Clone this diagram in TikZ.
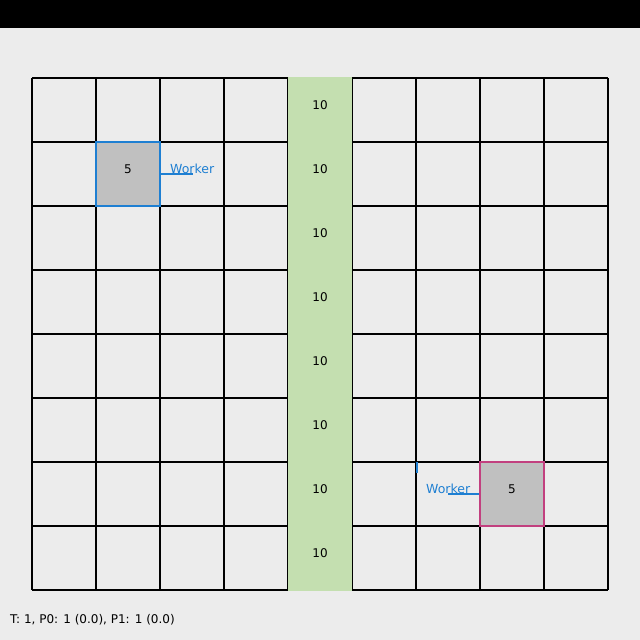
\documentclass[tikz,border=0pt]{standalone}
\usepackage{fontspec}
\setmainfont{DejaVu Sans}
\definecolor{bg}{HTML}{ECECEC}
\definecolor{lane}{HTML}{C4DFB0}
\definecolor{box}{HTML}{C0C0C0}
\definecolor{wblue}{HTML}{1E7FD2}
\definecolor{wpink}{HTML}{C2407F}
\begin{document}
\begin{tikzpicture}[x=1pt,y=-1pt,
  gridline/.style={black,line width=1.1pt},
  lanecell/.style={draw=none,inner sep=0pt,font=\fontsize{12}{14}\selectfont},
  worker/.style={fill=box,line width=1.6pt,minimum width=64pt,minimum height=64pt,inner sep=0pt,font=\fontsize{12}{14}\selectfont},
  wlabel/.style={text=wblue,font=\fontsize{12.5}{14}\selectfont,inner sep=0pt},
  wlink/.style={wblue,line width=1.2pt}]
\fill[bg] (0,0) rectangle (640,640);
\useasboundingbox (0,0) rectangle (640,640);
\fill[black] (0,0) rectangle (640,28);
% grid
\foreach \i in {0,...,9} \draw[gridline] (32+64*\i,78) -- (32+64*\i,590);
\foreach \j in {0,...,8} \draw[gridline] (32,78+64*\j) -- (608,78+64*\j);
% lane
\fill[lane] (288,77) rectangle (352,591);
\foreach \j in {0,...,7} \node[lanecell] (lane\j) at (320,105+64*\j) {10};
% workers
\node[worker,draw=wblue] (w1) at (128,174) {\raisebox{10pt}{5}};
\node[worker,draw=wpink] (w2) at (512,494) {\raisebox{10pt}{5}};
\node[wlabel,anchor=west] (l1) at (170,169) {Worker};
\node[wlabel,anchor=west] (l2) at (426,489) {Worker};
\coordinate (t1a) at (160.5,142);
\coordinate (t1b) at (160.5,152);
\coordinate (t2a) at (417,462);
\coordinate (t2b) at (417,473);
\coordinate (u1) at (193,174);
\coordinate (u2) at (448,494);
\draw[wlink] (t1a) -- (t1b);
\draw[wlink] (t2a) -- (t2b);
\draw[wlink] (w1.east |- u1) -- (u1);
\draw[wlink] (u2) -- (w2.west |- u2);
% status
\node[anchor=west,inner sep=0pt,font=\fontsize{12}{14}\selectfont] (status) at (10,620) {T: 1, P0: 1 (0.0), P1: 1 (0.0)};
\end{tikzpicture}
\end{document}
